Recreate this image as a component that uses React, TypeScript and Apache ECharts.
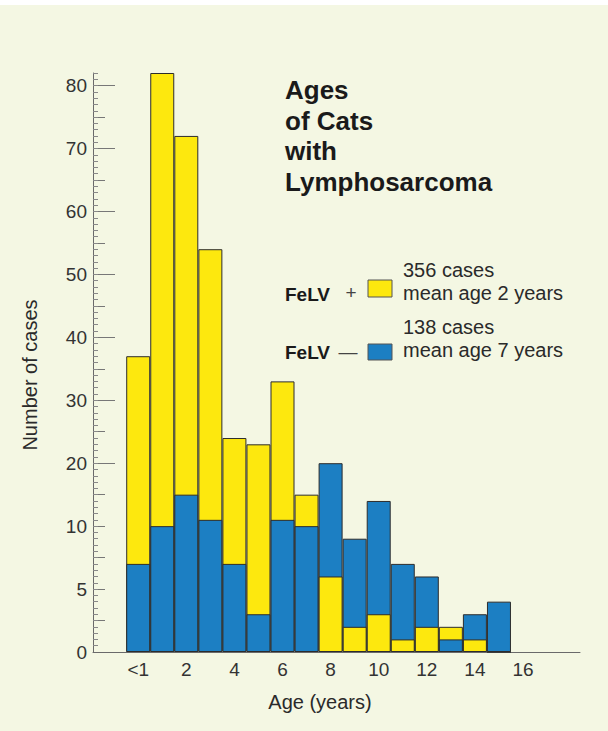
import React, { useEffect, useRef } from "react";
import * as echarts from "echarts";

// Data
const ageLabels = ["<1", "1", "2", "3", "4", "5", "6", "7", "8", "9", "10", "11", "12", "13", "14", "15"];
const felvPositive = [37, 82, 72, 54, 24, 23, 33, 15, 6, 2, 3, 1, 2, 2, 1, 0];
const felvNegative = [7, 10, 15, 11, 7, 3, 11, 10, 20, 9, 14, 7, 6, 1, 3, 4];
const yTickLabels = [0, 5, 10, 20, 30, 40, 50, 60, 70, 80];
const xTickLabels = ["<1", "2", "4", "6", "8", "10", "12", "14", "16"];
const xTickPositions = [0, 2, 4, 6, 8, 10, 12, 14, 16];

const YELLOW = "#fde80e";
const BLUE = "#1c7fc3";
const BG = "#f4f7e3";
const FONT = "'Liberation Sans', Arial, sans-serif";

// The printed axis is broken: 0-10 takes twice the space per case as above 10.
const toAxis = (v: number) => (v <= 10 ? v * 2 : v + 10);
const fromAxis = (t: number) => (t <= 20 ? t / 2 : t - 10);

const AXIS_MAX = 92;
const longTicks = [30, 40, 50, 60, 70, 80, 90];
const midTicks: number[] = [];
for (let t = 5; t < AXIS_MAX; t += 5) if (!longTicks.includes(t)) midTicks.push(t);
const minorTicks: number[] = [];
for (let t = 1; t <= AXIS_MAX; t += 1) minorTicks.push(t);

export default function App() {
  const ref = useRef<HTMLDivElement>(null);
  useEffect(() => {
    if (!ref.current) return;
    const chart = echarts.init(ref.current, null, { renderer: "svg" });

    const back = ageLabels.map((_, i) => {
      const p = felvPositive[i];
      const n = felvNegative[i];
      const big = Math.max(p, n);
      return { value: [i, toAxis(big)], itemStyle: { color: p >= n ? YELLOW : BLUE } };
    });
    const front = ageLabels.map((_, i) => {
      const p = felvPositive[i];
      const n = felvNegative[i];
      const small = Math.min(p, n);
      return { value: [i, toAxis(small)], itemStyle: { color: p >= n ? BLUE : YELLOW } };
    });

    const yBase = { type: "value", min: 0, max: AXIS_MAX, position: "left", splitLine: { show: false } };
    const labelVals = yTickLabels.map(toAxis);

    chart.setOption({
      animation: false,
      backgroundColor: BG,
      grid: { left: 93, right: 28, top: 73, bottom: 79 },
      xAxis: {
        type: "value",
        min: -1.88,
        max: 18.37,
        splitLine: { show: false },
        axisTick: { show: false },
        axisLine: { onZero: false, lineStyle: { color: "#6a6a6a", width: 1 } },
        axisLabel: {
          customValues: xTickPositions,
          formatter: (v: number) => xTickLabels[xTickPositions.indexOf(Math.round(v))] ?? "",
          color: "#333",
          fontSize: 19,
          fontFamily: FONT,
          margin: 8,
        },
      },
      yAxis: [
        {
          ...yBase,
          interval: 10,
          axisLine: { show: true, onZero: false, lineStyle: { color: "#6a6a6a", width: 1 } },
          axisTick: {
            show: true,
            inside: true,
            length: 22,
            customValues: longTicks,
            lineStyle: { color: "#777" },
          },
          axisLabel: {
            customValues: labelVals,
            formatter: (t: number) => String(Math.round(fromAxis(t))),
            color: "#333",
            fontSize: 19,
            fontFamily: FONT,
            margin: 6,
          },
        },
        {
          ...yBase,
          interval: 5,
          axisLine: { show: false, onZero: false },
          axisTick: { show: true, inside: true, length: 12, customValues: midTicks, lineStyle: { color: "#777" } },
          axisLabel: { show: false },
        },
        {
          ...yBase,
          interval: 1,
          axisLine: { show: false, onZero: false },
          axisTick: { show: true, inside: true, length: 5, customValues: minorTicks, lineStyle: { color: "#888" } },
          axisLabel: { show: false },
        },
      ],
      series: [
        {
          type: "bar",
          name: "back",
          data: back,
          barWidth: 24,
          barGap: "-100%",
          itemStyle: { borderColor: "#2c2c2c", borderWidth: 1 },
          z: 2,
        },
        {
          type: "bar",
          name: "front",
          data: front,
          barWidth: 24,
          barGap: "-100%",
          itemStyle: { borderColor: "#2c2c2c", borderWidth: 1 },
          z: 3,
        },
      ],
      graphic: [
        { type: "rect", shape: { x: 0, y: 0, width: 608, height: 5 }, style: { fill: "#ffffff" }, z: 10 },
        ...["Ages", "of Cats", "with", "Lymphosarcoma"].map((t, i) => ({
          type: "text",
          x: 285,
          y: 90 + i * 30.5,
          style: {
            text: t,
            font: `bold 26px ${FONT}`,
            fill: "#1a1a1a",
            textAlign: "left",
            textVerticalAlign: "middle",
          },
          z: 10,
        })),
        // legend row 1
        { type: "text", x: 285, y: 294, style: { text: "FeLV", font: `bold 19px ${FONT}`, fill: "#1a1a1a", textVerticalAlign: "middle" }, z: 10 },
        { type: "text", x: 351, y: 292, style: { text: "+", font: `19px ${FONT}`, fill: "#444", textAlign: "center", textVerticalAlign: "middle" }, z: 10 },
        { type: "rect", shape: { x: 368, y: 280, width: 24, height: 17 }, style: { fill: YELLOW, stroke: "#555", lineWidth: 1 }, z: 10 },
        { type: "text", x: 403, y: 270, style: { text: "356 cases", font: `20px ${FONT}`, fill: "#2a2a2a", textVerticalAlign: "middle" }, z: 10 },
        { type: "text", x: 403, y: 293, style: { text: "mean age 2 years", font: `20px ${FONT}`, fill: "#2a2a2a", textVerticalAlign: "middle" }, z: 10 },
        // legend row 2
        { type: "text", x: 285, y: 352, style: { text: "FeLV", font: `bold 19px ${FONT}`, fill: "#1a1a1a", textVerticalAlign: "middle" }, z: 10 },
        { type: "text", x: 348, y: 351, style: { text: "—", font: `19px ${FONT}`, fill: "#444", textAlign: "center", textVerticalAlign: "middle" }, z: 10 },
        { type: "rect", shape: { x: 368, y: 344, width: 24, height: 16 }, style: { fill: BLUE, stroke: "#555", lineWidth: 1 }, z: 10 },
        { type: "text", x: 403, y: 327, style: { text: "138 cases", font: `20px ${FONT}`, fill: "#2a2a2a", textVerticalAlign: "middle" }, z: 10 },
        { type: "text", x: 403, y: 350, style: { text: "mean age 7 years", font: `20px ${FONT}`, fill: "#2a2a2a", textVerticalAlign: "middle" }, z: 10 },
        // axis titles
        {
          type: "text",
          x: 30,
          y: 375,
          rotation: Math.PI / 2,
          style: { text: "Number of cases", font: `20px ${FONT}`, fill: "#2a2a2a", textAlign: "center", textVerticalAlign: "middle" },
          z: 10,
        },
        {
          type: "text",
          x: 320,
          y: 702,
          style: { text: "Age (years)", font: `20px ${FONT}`, fill: "#2a2a2a", textAlign: "center", textVerticalAlign: "middle" },
          z: 10,
        },
      ],
    });
    return () => chart.dispose();
  }, []);

  return (
    <div
      ref={ref}
      style={{ position: "absolute", left: 0, top: 0, width: 608, height: 731 }}
    />
  );
}
